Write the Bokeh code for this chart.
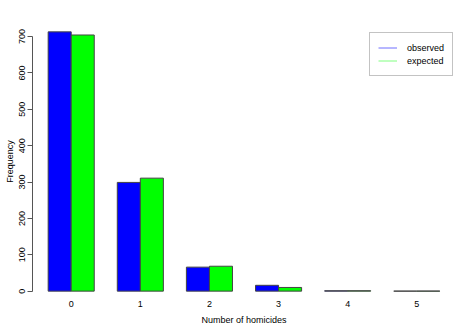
import numpy as np
from bokeh.plotting import figure
from bokeh.models import Range1d, FixedTicker, Legend, LegendItem, ColumnDataSource
from bokeh.embed import file_html
from bokeh.resources import INLINE

# Data
homicides = ["0", "1", "2", "3", "4", "5"]
observed = [713, 299, 66, 16, 1, 0]
expected = [704.4, 310.7, 68.5, 10.1, 1.1, 0.1]
y_ticks = [0, 100, 200, 300, 400, 500, 600, 700]
series = ["observed", "expected"]

FONT = "Arial"
FS = "9px"

idx = np.arange(len(homicides))
group_start = 3 * idx + 1  # R barplot beside layout: space=c(0,1)
src_obs = ColumnDataSource(dict(x=group_start + 0.5, top=observed))
src_exp = ColumnDataSource(dict(x=group_start + 1.5, top=expected))

xmax = float(group_start[-1] + 2)
xpad = (xmax - 1) * 0.04
ymax = max(observed)
ypad = ymax * 0.04

p = figure(width=473, height=335, output_backend="svg", toolbar_location=None,
           x_range=Range1d(1 - xpad, xmax + xpad), y_range=Range1d(-ypad, ymax + ypad),
           min_border_left=32, min_border_right=18, min_border_top=21, min_border_bottom=34)
p.outline_line_color = None
p.grid.visible = False
p.background_fill_color = "white"
p.border_fill_color = "white"

p.vbar(x="x", top="top", width=1, bottom=0, source=src_obs,
       fill_color="#0000ff", line_color="#444444", line_width=1)
p.vbar(x="x", top="top", width=1, bottom=0, source=src_exp,
       fill_color="#00ff00", line_color="#444444", line_width=1)

# legend (lines)
l1 = p.line(x=[np.nan], y=[np.nan], line_color="#6f6fff", line_width=1)
l2 = p.line(x=[np.nan], y=[np.nan], line_color="#80ff80", line_width=1)
legend = Legend(items=[LegendItem(label=series[0], renderers=[l1]),
                       LegendItem(label=series[1], renderers=[l2])],
                location=(337, 225), margin=0, padding=8, spacing=0,
                glyph_width=19, glyph_height=13, label_height=13, label_standoff=10,
                label_text_font=FONT, label_text_font_size=FS, label_text_color="black",
                border_line_color="#888888", border_line_width=1,
                background_fill_color="white", background_fill_alpha=1)
p.add_layout(legend, "center")

# x axis
xa = p.xaxis[0]
xa.ticker = FixedTicker(ticks=[float(v + 1) for v in group_start])
xa.major_label_overrides = {float(v + 1): lab for v, lab in zip(group_start, homicides)}
xa.axis_line_color = None
xa.major_tick_line_color = None
xa.minor_tick_line_color = None
xa.major_tick_out = 0
xa.major_tick_in = 0
xa.major_label_standoff = -1
xa.major_label_text_font = FONT
xa.major_label_text_font_size = FS
xa.major_label_text_color = "black"
xa.axis_label = "Number of homicides"
xa.axis_label_text_font = FONT
xa.axis_label_text_font_size = FS
xa.axis_label_text_font_style = "normal"
xa.axis_label_text_color = "black"
xa.axis_label_standoff = 5

# y axis
ya = p.yaxis[0]
ya.ticker = FixedTicker(ticks=y_ticks)
ya.bounds = (y_ticks[0], y_ticks[-1])
ya.axis_line_color = "#555555"
ya.major_tick_line_color = "#555555"
ya.major_tick_out = 5
ya.major_tick_in = 0
ya.minor_tick_line_color = None
ya.major_label_orientation = "vertical"
ya.major_label_standoff = 2
ya.major_label_text_font = FONT
ya.major_label_text_font_size = FS
ya.major_label_text_color = "black"
ya.axis_label = "Frequency"
ya.axis_label_text_font = FONT
ya.axis_label_text_font_size = FS
ya.axis_label_text_font_style = "normal"
ya.axis_label_text_color = "black"
ya.axis_label_standoff = 2

open("out.html", "w").write(file_html(p, INLINE))
